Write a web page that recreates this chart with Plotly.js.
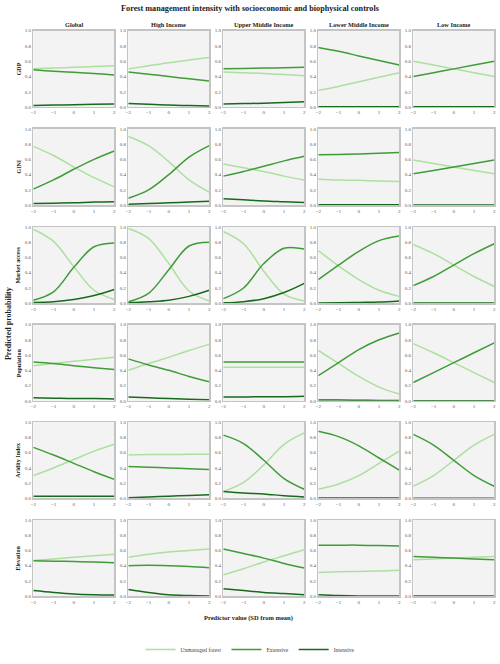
<!DOCTYPE html>
<html>
<head>
<meta charset="utf-8">
<script src="https://cdn.plot.ly/plotly-3.0.1.min.js"></script>
<style>html,body{margin:0;padding:0;background:#fff;}#chart{width:500px;height:664px;}</style>
</head>
<body>
<div id="chart"></div>
<script>
// ---------- data ----------
const xVals = [-2, -1, 0, 1, 2];
const groups = ['Global', 'High Income', 'Upper Middle Income', 'Lower Middle Income', 'Low Income'];
const predictors = ['GDP', 'GINI', 'Market access', 'Population', 'Aridity Index', 'Elevation'];
const seriesNames = ['Unmanaged forest', 'Extensive', 'Intensive'];
const yTickVals = [0, 0.2, 0.4, 0.6, 0.8, 1.0];
const yTickText = ['0.0', '0.2', '0.4', '0.6', '0.8', '1.0'];
const xTickVals = [-2, -1, 0, 1, 2];
const xTickText = ['\u22122', '\u22121', '0', '1', '2'];

// each array: one row per income group (Global, High, Upper middle, Lower middle, Low), values at xVals
const gdp_unmanaged = [
  [0.50, 0.51, 0.52, 0.53, 0.54],
  [0.50, 0.54, 0.58, 0.615, 0.65],
  [0.46, 0.45, 0.44, 0.425, 0.41],
  [0.22, 0.27, 0.33, 0.39, 0.45],
  [0.60, 0.55, 0.50, 0.45, 0.40]];
const gdp_extensive = [
  [0.49, 0.47, 0.455, 0.44, 0.42],
  [0.46, 0.43, 0.40, 0.37, 0.34],
  [0.50, 0.505, 0.51, 0.515, 0.52],
  [0.78, 0.73, 0.67, 0.61, 0.55],
  [0.40, 0.45, 0.50, 0.55, 0.60]];
const gdp_intensive = [
  [0.02, 0.025, 0.03, 0.035, 0.04],
  [0.045, 0.035, 0.025, 0.02, 0.015],
  [0.04, 0.045, 0.05, 0.06, 0.07],
  [0.005, 0.005, 0.005, 0.005, 0.005],
  [0.002, 0.002, 0.002, 0.002, 0.002]];

const gini_unmanaged = [
  [0.77, 0.65, 0.50, 0.36, 0.24],
  [0.90, 0.78, 0.57, 0.33, 0.17],
  [0.54, 0.49, 0.44, 0.38, 0.33],
  [0.34, 0.33, 0.325, 0.315, 0.31],
  [0.59, 0.545, 0.50, 0.455, 0.41]];
const gini_extensive = [
  [0.21, 0.33, 0.47, 0.60, 0.71],
  [0.09, 0.20, 0.40, 0.63, 0.78],
  [0.38, 0.44, 0.51, 0.58, 0.64],
  [0.66, 0.665, 0.67, 0.68, 0.69],
  [0.41, 0.455, 0.50, 0.545, 0.59]];
const gini_intensive = [
  [0.02, 0.025, 0.03, 0.04, 0.045],
  [0.01, 0.02, 0.03, 0.04, 0.05],
  [0.085, 0.07, 0.055, 0.045, 0.035],
  [0.005, 0.005, 0.005, 0.005, 0.005],
  [0.002, 0.002, 0.002, 0.002, 0.002]];

const market_unmanaged = [
  [0.97, 0.81, 0.48, 0.17, 0.05],
  [0.98, 0.85, 0.52, 0.16, 0.03],
  [0.94, 0.78, 0.42, 0.12, 0.03],
  [0.69, 0.49, 0.31, 0.17, 0.09],
  [0.77, 0.65, 0.50, 0.35, 0.22]];
const market_extensive = [
  [0.04, 0.15, 0.47, 0.74, 0.79],
  [0.02, 0.13, 0.44, 0.75, 0.80],
  [0.06, 0.20, 0.52, 0.72, 0.71],
  [0.31, 0.50, 0.68, 0.82, 0.88],
  [0.23, 0.35, 0.50, 0.65, 0.78]];
const market_intensive = [
  [0.01, 0.02, 0.05, 0.10, 0.18],
  [0.005, 0.02, 0.04, 0.09, 0.17],
  [0.005, 0.02, 0.06, 0.14, 0.26],
  [0.003, 0.005, 0.01, 0.015, 0.03],
  [0.002, 0.002, 0.002, 0.002, 0.002]];

const pop_unmanaged = [
  [0.46, 0.49, 0.52, 0.545, 0.57],
  [0.40, 0.49, 0.57, 0.66, 0.74],
  [0.44, 0.44, 0.44, 0.44, 0.44],
  [0.66, 0.49, 0.32, 0.18, 0.09],
  [0.75, 0.63, 0.50, 0.37, 0.24]];
const pop_extensive = [
  [0.51, 0.49, 0.46, 0.435, 0.41],
  [0.55, 0.47, 0.40, 0.32, 0.25],
  [0.51, 0.51, 0.51, 0.51, 0.51],
  [0.33, 0.50, 0.67, 0.80, 0.89],
  [0.24, 0.37, 0.50, 0.63, 0.76]];
const pop_intensive = [
  [0.04, 0.035, 0.03, 0.03, 0.025],
  [0.05, 0.04, 0.03, 0.02, 0.015],
  [0.05, 0.05, 0.055, 0.055, 0.06],
  [0.01, 0.01, 0.008, 0.006, 0.005],
  [0.002, 0.002, 0.002, 0.002, 0.002]];

const arid_unmanaged = [
  [0.30, 0.40, 0.51, 0.62, 0.71],
  [0.57, 0.575, 0.575, 0.58, 0.58],
  [0.09, 0.21, 0.44, 0.71, 0.86],
  [0.12, 0.19, 0.30, 0.46, 0.62],
  [0.16, 0.30, 0.50, 0.70, 0.84]];
const arid_extensive = [
  [0.67, 0.57, 0.46, 0.35, 0.25],
  [0.42, 0.41, 0.40, 0.39, 0.38],
  [0.83, 0.72, 0.50, 0.26, 0.12],
  [0.88, 0.81, 0.69, 0.53, 0.37],
  [0.84, 0.70, 0.50, 0.30, 0.16]];
const arid_intensive = [
  [0.03, 0.03, 0.03, 0.03, 0.03],
  [0.01, 0.02, 0.03, 0.04, 0.05],
  [0.09, 0.07, 0.06, 0.035, 0.02],
  [0.005, 0.005, 0.005, 0.005, 0.005],
  [0.002, 0.002, 0.002, 0.002, 0.002]];

const elev_unmanaged = [
  [0.47, 0.49, 0.51, 0.53, 0.55],
  [0.51, 0.55, 0.58, 0.60, 0.62],
  [0.28, 0.36, 0.45, 0.53, 0.61],
  [0.31, 0.32, 0.325, 0.33, 0.34],
  [0.48, 0.49, 0.50, 0.51, 0.52]];
const elev_extensive = [
  [0.465, 0.46, 0.455, 0.45, 0.44],
  [0.40, 0.405, 0.40, 0.39, 0.375],
  [0.62, 0.56, 0.50, 0.43, 0.37],
  [0.67, 0.67, 0.67, 0.665, 0.66],
  [0.52, 0.51, 0.50, 0.49, 0.48]];
const elev_intensive = [
  [0.075, 0.05, 0.03, 0.02, 0.015],
  [0.09, 0.05, 0.02, 0.01, 0.005],
  [0.10, 0.075, 0.05, 0.035, 0.02],
  [0.02, 0.01, 0.005, 0.003, 0.003],
  [0.002, 0.002, 0.002, 0.002, 0.002]];

// ---------- assembly ----------
const rowsData = [
  [gdp_unmanaged, gdp_extensive, gdp_intensive],
  [gini_unmanaged, gini_extensive, gini_intensive],
  [market_unmanaged, market_extensive, market_intensive],
  [pop_unmanaged, pop_extensive, pop_intensive],
  [arid_unmanaged, arid_extensive, arid_intensive],
  [elev_unmanaged, elev_extensive, elev_intensive]];
const colors = ['#addf9f', '#3f9c37', '#176a1c'];

const W = 500, H = 664;
const colLeft = [33.3, 128.3, 223.3, 318.3, 413.3];
const colW = 81;
const rowTop = [31, 130, 229, 327.5, 426, 524.7];
const rowH = 77;
const serif = 'Liberation Serif, Times New Roman, serif';

const traces = [];
const layout = {
  width: W, height: H,
  margin: {l: 0, r: 0, t: 0, b: 0},
  paper_bgcolor: '#ffffff',
  plot_bgcolor: '#f3f3f3',
  font: {family: serif, color: '#333'},
  title: {text: '<b>Forest management intensity with socioeconomic and biophysical controls</b>',
          font: {family: serif, size: 8.2, color: '#222'}, x: 0.5, xanchor: 'center', y: 1 - 8.5 / H, yanchor: 'middle'},
  showlegend: true,
  legend: {orientation: 'h', x: 0.5, xanchor: 'center', y: 1 - 655.5 / H, yanchor: 'middle',
           font: {family: serif, size: 5.5, color: '#444'}, itemwidth: 30, tracegroupgap: 0, bgcolor: 'rgba(0,0,0,0)'},
  annotations: [],
  hovermode: false
};

for (let r = 0; r < predictors.length; r++) {
  for (let c = 0; c < groups.length; c++) {
    const i = r * groups.length + c + 1;
    const xa = 'xaxis' + (i === 1 ? '' : i), ya = 'yaxis' + (i === 1 ? '' : i);
    const xr = 'x' + (i === 1 ? '' : i), yr = 'y' + (i === 1 ? '' : i);
    layout[xa] = {
      domain: [colLeft[c] / W, (colLeft[c] + colW) / W], anchor: yr,
      range: [-2, 2], tickvals: xTickVals, ticktext: xTickText,
      showline: true, mirror: true, linecolor: '#c4c4c4', linewidth: 1.4,
      showgrid: false, zeroline: false, ticks: '', ticklen: 0,
      tickfont: {family: serif, size: 5, color: '#555'}, fixedrange: true
    };
    layout[ya] = {
      domain: [1 - (rowTop[r] + rowH) / H, 1 - rowTop[r] / H], anchor: xr,
      range: [0, 1], tickvals: yTickVals, ticktext: yTickText,
      showline: true, mirror: true, linecolor: '#c4c4c4', linewidth: 1.4,
      showgrid: false, zeroline: false, ticks: '', ticklen: 0,
      tickfont: {family: serif, size: 5, color: '#555'}, fixedrange: true
    };
    for (let s = 0; s < 3; s++) {
      traces.push({
        type: 'scatter', mode: 'lines', x: xVals, y: rowsData[r][s][c],
        xaxis: xr, yaxis: yr, name: seriesNames[s],
        line: {color: colors[s], width: 1.5, shape: 'spline', smoothing: 1},
        showlegend: i === 1, legendgroup: seriesNames[s], hoverinfo: 'skip'
      });
    }
  }
  // row label
  layout.annotations.push({
    text: '<b>' + predictors[r] + '</b>', xref: 'paper', yref: 'paper',
    x: 18.5 / W, y: 1 - (rowTop[r] + rowH / 2) / H, textangle: -90,
    showarrow: false, xanchor: 'center', yanchor: 'middle',
    font: {family: serif, size: 6, color: '#222'}
  });
}
for (let c = 0; c < groups.length; c++) {
  layout.annotations.push({
    text: '<b>' + groups[c] + '</b>', xref: 'paper', yref: 'paper',
    x: (colLeft[c] + colW / 2) / W, y: 1 - 25 / H, showarrow: false,
    xanchor: 'center', yanchor: 'middle', font: {family: serif, size: 6.3, color: '#222'}
  });
}
layout.annotations.push({
  text: '<b>Predicted probability</b>', xref: 'paper', yref: 'paper',
  x: 8 / W, y: 1 - 327 / H, textangle: -90, showarrow: false,
  xanchor: 'center', yanchor: 'middle', font: {family: serif, size: 8, color: '#222'}
});
layout.annotations.push({
  text: '<b>Predictor value (SD from mean)</b>', xref: 'paper', yref: 'paper',
  x: 248 / W, y: 1 - 624 / H, showarrow: false,
  xanchor: 'center', yanchor: 'middle', font: {family: serif, size: 6.5, color: '#222'}
});

Plotly.newPlot('chart', traces, layout, {staticPlot: true, displayModeBar: false});
</script>
</body>
</html>
